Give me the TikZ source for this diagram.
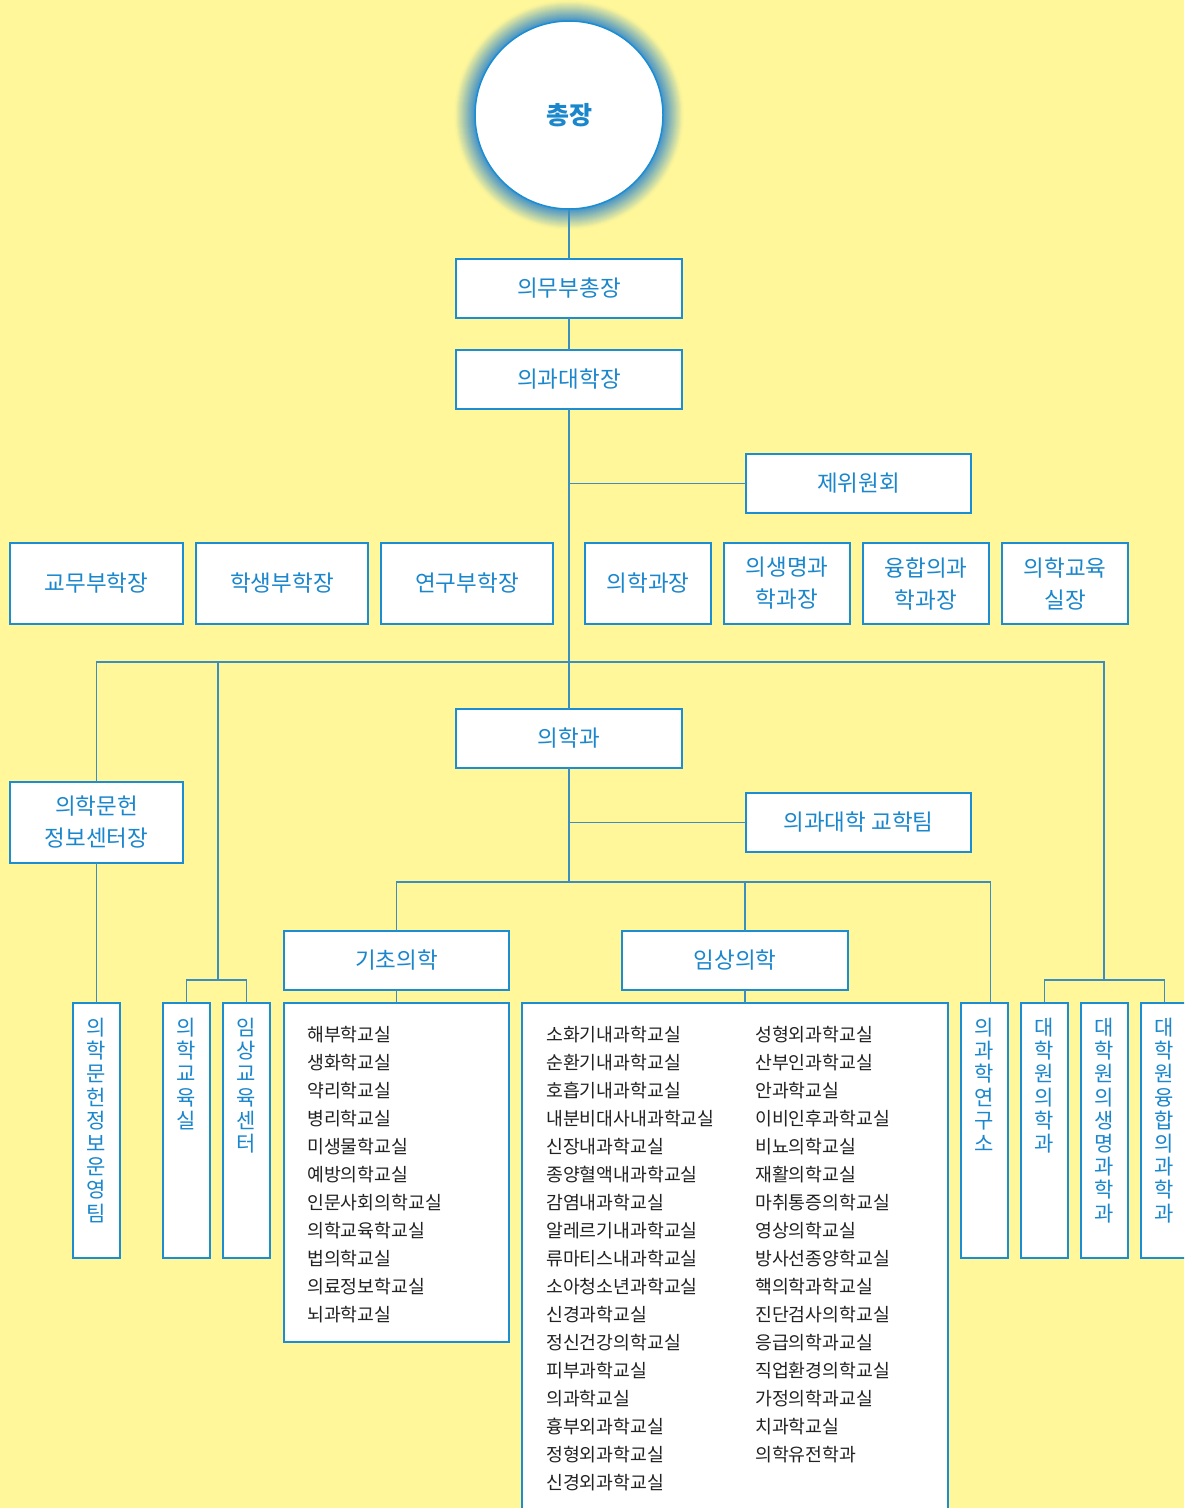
\documentclass[tikz,border=0pt]{standalone}
\usepackage{fontspec}
\setmainfont{Noto Sans CJK KR}
\usepackage{xcolor}
\usetikzlibrary{positioning}

\definecolor{bgyellow}{HTML}{FFF799}
\definecolor{boxblue}{HTML}{1B8ED3}
\definecolor{textblue}{HTML}{1A86CC}
\definecolor{linkblue}{HTML}{3A8FC0}
\definecolor{haloblue}{HTML}{3F8FC9}
\definecolor{listblack}{HTML}{222222}

\begin{document}
\begin{tikzpicture}[x=1pt, y=-1pt,
  box/.style={draw=boxblue, fill=white, line width=1.3pt, text=textblue, inner sep=0pt, outer sep=0pt, align=center, font=\fontsize{22.5}{32}\selectfont},
  vbox/.style={draw=boxblue, fill=white, line width=1.3pt, minimum width=47pt, minimum height=255pt, inner sep=0pt, outer sep=0pt},
  vlabel/.style={text=textblue, align=center, inner sep=0pt, font=\fontsize{21}{23.2}\selectfont},
  listtext/.style={text=listblack, align=left, inner sep=0pt, font=\fontsize{18.3}{28}\selectfont},
  link/.style={draw=linkblue, line width=1.2pt}]

\useasboundingbox (0,0) rectangle (1184,1508);
\clip (0,0) rectangle (1184,1508);
\fill[bgyellow] (0,0) rectangle (1184,1508);

%
% President
%
\coordinate (top) at (569,115);
\foreach \i in {0,...,20}{
  \pgfmathtruncatemacro\pct{100-4.8*\i}
  \draw[line width=1.6pt, haloblue!\pct!bgyellow] (top) circle (94+\i);
}
\node[circle, draw=boxblue, fill=white, line width=1.5pt, minimum size=188pt, text=textblue, font=\fontsize{25}{30}\selectfont\bfseries] (president) at (top) {총장};

\node[box, minimum width=226pt, minimum height=59pt] (vicepres) at (569,288.5) {의무부총장};
\node[box, minimum width=226pt, minimum height=59pt] (dean) at (569,379.5) {의과대학장};
\node[box, minimum width=225pt, minimum height=59pt] (committee) at (858.5,483.5) {제위원회};

% Vice deans and directors
\node[box, minimum width=173pt, minimum height=81pt] (academic) at (96.5,583.5) {교무부학장};
\node[box, minimum width=172pt, minimum height=81pt] (student) at (282,583.5) {학생부학장};
\node[box, minimum width=172pt, minimum height=81pt] (research) at (467,583.5) {연구부학장};
\node[box, minimum width=126pt, minimum height=81pt] (medhead) at (648,583.5) {의학과장};
\node[box, minimum width=126pt, minimum height=81pt] (biohead) at (787,583.5) {의생명과\\학과장};
\node[box, minimum width=126pt, minimum height=81pt] (fushead) at (926,583.5) {융합의과\\학과장};
\node[box, minimum width=126pt, minimum height=81pt] (eduhead) at (1065,583.5) {의학교육\\실장};

% Medical school
\node[box, minimum width=226pt, minimum height=59pt] (medschool) at (569,738.5) {의학과};
\node[box, minimum width=173pt, minimum height=81pt] (library) at (96.5,822.5) {의학문헌\\정보센터장};
\node[box, minimum width=225pt, minimum height=59pt] (teachteam) at (858.5,822.5) {의과대학 교학팀};

\node[box, minimum width=225pt, minimum height=59pt] (basic) at (396.5,960.5) {기초의학};
\node[box, minimum width=226pt, minimum height=59pt] (clinical) at (735,960.5) {임상의학};

%
% Departments
%
\node[box, minimum width=225pt, minimum height=339pt] (basiclist) at (396.5,1172.5) {};
\node[listtext, below right=23pt and 23pt of basiclist.north west] (basictxt)
  {해부학교실\\생화학교실\\약리학교실\\병리학교실\\미생물학교실\\예방의학교실\\인문사회의학교실\\의학교육학교실\\법의학교실\\의료정보학교실\\뇌과학교실};

\node[box, minimum width=426pt, minimum height=540pt] (cliniclist) at (735,1273) {};
\node[listtext, below right=23pt and 24pt of cliniclist.north west] (clintxtA)
  {소화기내과학교실\\순환기내과학교실\\호흡기내과학교실\\내분비대사내과학교실\\신장내과학교실\\종양혈액내과학교실\\감염내과학교실\\알레르기내과학교실\\류마티스내과학교실\\소아청소년과학교실\\신경과학교실\\정신건강의학교실\\피부과학교실\\의과학교실\\흉부외과학교실\\정형외과학교실\\신경외과학교실};
\node[listtext, below right=23pt and 233pt of cliniclist.north west] (clintxtB)
  {성형외과학교실\\산부인과학교실\\안과학교실\\이비인후과학교실\\비뇨의학교실\\재활의학교실\\마취통증의학교실\\영상의학교실\\방사선종양학교실\\핵의학과학교실\\진단검사의학교실\\응급의학과교실\\직업환경의학교실\\가정의학과교실\\치과학교실\\의학유전학과};

% Vertical boxes
\node[vbox] (libteam) at (96.5,1130.5) {};
\node[vlabel, below=15pt of libteam.north] (libteamtxt) {의\\학\\문\\헌\\정\\보\\운\\영\\팀};
\node[vbox] (eduroom) at (186.5,1130.5) {};
\node[vlabel, below=15pt of eduroom.north] (eduroomtxt) {의\\학\\교\\육\\실};
\node[vbox] (clinedu) at (246.5,1130.5) {};
\node[vlabel, below=15pt of clinedu.north] (clinedutxt) {임\\상\\교\\육\\센\\터};
\node[vbox] (medsci) at (984.5,1130.5) {};
\node[vlabel, below=15pt of medsci.north] (medscitxt) {의\\과\\학\\연\\구\\소};
\node[vbox] (gradmed) at (1044.5,1130.5) {};
\node[vlabel, below=15pt of gradmed.north] (gradmedtxt) {대\\학\\원\\의\\학\\과};
\node[vbox] (gradbio) at (1104.5,1130.5) {};
\node[vlabel, below=15pt of gradbio.north] (gradbiotxt) {대\\학\\원\\의\\생\\명\\과\\학\\과};
\node[vbox] (gradfus) at (1164.5,1130.5) {};
\node[vlabel, below=15pt of gradfus.north] (gradfustxt) {대\\학\\원\\융\\합\\의\\과\\학\\과};

%
% Connectors
%
\coordinate (hubA) at (569,662);
\coordinate (hubB) at (569,882);
\coordinate (eduhub) at (218,980);
\coordinate (gradhub) at (1104,980);

\draw[link] (president) -- (vicepres);
\draw[link] (vicepres) -- (dean);
\draw[link] (dean) -- (medschool);
\draw[link] (dean |- committee) -- (committee);

\draw[link] (library.north) |- (hubA) -| (gradhub);
\draw[link] (eduhub) |- (hubA);
\draw[link] (eduroom.north) |- (eduhub) -| (clinedu.north);
\draw[link] (gradmed.north) |- (gradhub) -| (gradfus.north);
\draw[link] (library) -- (libteam);

\draw[link] (medschool |- teachteam) -- (teachteam);
\draw[link] (medschool) -- (hubB);
\draw[link] (basic.north) |- (hubB) -| ([xshift=6pt]medsci.north);
\draw[link] (hubB) -| ([xshift=10pt]clinical.north);
\draw[link] (basic) -- (basiclist);
\draw[link] ([xshift=10pt]clinical.south) -- ([xshift=10pt]cliniclist.north);

\end{tikzpicture}
\end{document}
